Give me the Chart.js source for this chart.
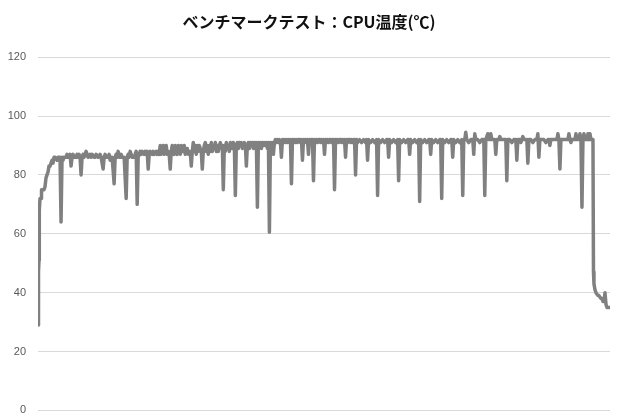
<!DOCTYPE html>
<html>
<head>
<meta charset="utf-8">
<script src="https://cdn.jsdelivr.net/npm/chart.js@4"></script>
<style>
html,body{margin:0;padding:0;background:#fff;overflow:hidden;}
#wrap{width:620px;height:420px;overflow:hidden;}
canvas{display:block;}
</style>
</head>
<body>
<div id="wrap"><canvas id="c" width="620" height="429"></canvas></div>
<script>
const chartTitle = 'ベンチマークテスト：CPU温度(℃)';
const yTicks = [0, 20, 40, 60, 80, 100, 120];

// sample time index
const time = [
0,0.5,1,1.3,2,3,3.5,6,7,8,9,10,11,12,13,14,15,16,
17,19,20,21,22,23,24,25,26,28,29,30,31,32,33,34,35,36,38,39,40,41,42,43,44,45,46,48,49,50,52,53,54,56,57,58,60,62,63,65,66,67,68,70,71,72,73,74,76,77,78,79,80,81,82,83,84,86,88,89,90,91,92,93,94,96,98,99,100,101,102,
103,104,106,107,108,109,110,111,112,114,115,116,118,119,120,121,122,123,124,125,126,127,128,129,130,131,132,133,134,135,136,137,138,139,140,141,142,143,144,145,146,147,148,149,150,151,152,153,154,155,156,157,158,159,160,161,162,163,164,165,166,167,168,169,170,171,172,173,174,175,176,177,178,179,180,181,182,183,184,185,186,187,188,189,190,191,192,193,194,195,196,197,198,199,200,201,202,
203,204,205,206,207,208,209,210,211,212,213,214,215,216,217,218,219,220,221,222,223,224,225,226,227,228,229,230,231,232,233,234,235,236,237,238,239,240,241,242,243,244,245,246,247,248,249,250,251,252,253,254,255,256,257,258,259,260,261,262,263,264,265,266,267,268,269,270,271,272,273,274,275,276,277,278,279,280,281,282,283,284,285,286,287,288,289,290,291,292,293,294,295,296,297,298,299,300,301,302,303,304,305,306,307,308,309,310,311,312,313,314,315,316,317,318,
319,321,323,325,327,328,329,330,332,334,336,338,339,340,342,344,346,348,349,350,351,353,355,357,359,360,361,363,365,367,369,370,371,372,374,376,378,380,381,382,384,386,388,390,391,392,393,395,397,399,401,402,403,404,406,408,410,412,413,414,415,417,419,421,423,424,425,426,427,428,430,432,
434,435,436,437,439,441,443,445,446,447,449,450,451,452,453,455,456,457,458,460,461,462,464,466,467,468,469,471,473,475,477,478,479,481,482,484,485,487,488,489,490,492,494,496,498,499,500,501,503,505,507,509,510,511,512,514,516,518,519,520,521,522,524,526,528,529,530,531,532,533,535,536,537,538,540,541,542,543,544,545,546,548,549,550,551,552,553,554,
554.5,555,556,557,559,560,562,563,564,565,566,567,568,569,570
];

// CPU temperature (°C)
const temp = [
29,47,51,68,72,72,75,75,76,79,80,81,83,83,84,85,84,86,
86,85,86,86,86,64,86,85,86,86,87,86,86,87,83,86,87,86,86,87,86,87,86,80,86,87,86,88,87,86,87,86,87,86,86,87,86,87,86,82,86,87,86,86,87,85,86,86,77,86,87,86,88,86,86,87,86,86,72,86,87,86,88,87,86,86,88,70,86,87,88,
87,88,87,88,87,88,82,87,88,87,88,87,88,87,88,87,90,87,89,90,87,88,90,87,88,87,82,88,90,88,87,90,88,87,90,89,87,90,88,88,90,87,88,89,87,88,88,83,88,91,88,90,87,90,88,90,89,88,82,88,90,91,88,90,87,90,88,91,88,90,89,91,88,90,88,90,91,89,90,75,90,88,91,89,90,88,91,90,89,91,90,73,90,91,89,91,90,
91,89,90,91,90,83,90,91,89,91,90,91,89,91,90,91,69,91,90,91,89,91,90,91,90,91,89,91,60.5,91,90,91,87,91,92,91,92,91,92,91,86,92,91,92,91,92,91,92,91,92,77,92,91,92,91,92,91,92,92,91,92,85,92,91,92,91,92,87,92,91,92,92,78,92,91,92,91,92,92,91,92,91,92,87,92,91,92,91,92,92,91,92,92,75,92,91,92,91,92,92,91,92,91,92,86,92,91,92,92,91,92,91,92,92,80,92,
91,92,91,92,91,92,85,92,91,92,91,92,73,92,91,92,91,92,92,86,92,91,92,91,92,78,92,91,92,91,92,92,87,92,91,92,91,92,71,92,91,92,91,92,92,87,92,91,92,91,92,92,72,92,91,92,91,92,92,86,92,91,92,91,92,73,92,92,94.5,92,91,92,
92,87,94,92,92,91,92,92,73,92,94,92,92,94,92,92,92,87,92,92,93,92,92,92,92,78,92,92,91,92,92,85,92,92,91,93,92,92,92,84,92,92,91,92,92,94,86,92,92,92,91,92,92,90,92,92,92,92,94,92,82,92,92,92,92,92,94,92,91,92,92,92,94,92,92,94,92,69,92,94,92,92,94,92,94,92,92,92,
47,43,41,40,39,39,38,38,37,37,40,36,35,35,35
];

const points = time.map((t, i) => ({ x: t, y: temp[i] }));

new Chart(document.getElementById('c'), {
  type: 'scatter',
  data: {
    datasets: [{
      data: points,
      showLine: true,
      borderColor: '#808080',
      backgroundColor: '#808080',
      borderWidth: 3.5,
      pointRadius: 0,
      tension: 0,
      borderJoinStyle: 'round',
      borderCapStyle: 'round'
    }]
  },
  options: {
    responsive: false,
    animation: false,
    devicePixelRatio: 1,
    layout: { padding: { left: 8, right: 10, top: 0, bottom: 0 } },
    plugins: {
      legend: { display: false },
      tooltip: { enabled: false },
      title: {
        display: true,
        text: chartTitle,
        color: '#111',
        font: { family: '"Noto Sans CJK JP"', size: 16, weight: 'bold' },
        padding: { top: 12, bottom: 26 }
      }
    },
    scales: {
      x: { type: 'linear', display: false, min: 0, max: 571 },
      y: {
        min: 0, max: 120,
        afterBuildTicks: (axis) => { axis.ticks = yTicks.map(v => ({ value: v })); },
        afterFit: (axis) => { axis.width = 30; },
        border: { display: false },
        grid: { color: '#d9d9d9', lineWidth: 1, drawTicks: false },
        ticks: {
          color: '#595959',
          padding: 12,
          font: { family: '"Liberation Sans", Arial, sans-serif', size: 11 }
        }
      }
    }
  }
});
</script>
</body>
</html>
